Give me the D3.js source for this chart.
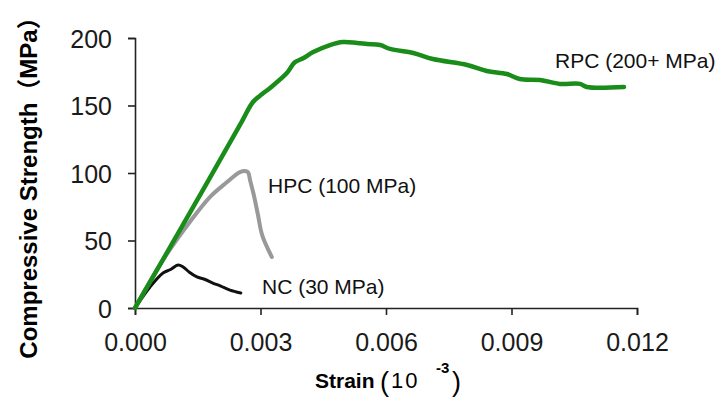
<!DOCTYPE html>
<html><head><meta charset="utf-8">
<script src="https://cdn.jsdelivr.net/npm/d3@7"></script>
<style>
html,body{margin:0;padding:0;background:#fff;}
text{font-family:"Liberation Sans",Arial,"Noto Sans CJK SC",sans-serif;}
</style></head>
<body><svg id="c" width="718" height="399"></svg>
<script>
// ---- data ----
const xTicks = [0, 0.003, 0.006, 0.009, 0.012];
const yTicks = [0, 50, 100, 150, 200];
const rpcStrain = [0,0.00131,0.00256,0.00282,0.00304,0.00323,0.00363,0.00382,0.00402,0.00426,0.00466,0.00497,0.00531,0.00555,0.00586,0.00610,0.00665,0.00712,0.00794,0.00841,0.00889,0.00920,0.00968,0.01016,0.01064,0.01080,0.01169];
const rpcStress = [0,70.4,138.5,152.6,158.5,163,174,182,185,189.6,194.8,197,196.3,195.6,194.8,191.9,188.9,184.4,180,175.6,173.3,169.6,168.9,166,166,163.7,163.7];
const hpcStrain = [0,0.00067,0.00131,0.00179,0.00220,0.00240,0.00251,0.00262,0.00270,0.00275,0.00284,0.00294,0.00304,0.00327];
const hpcStress = [0,35.6,63.7,82.2,93.3,98.5,100.7,101.5,100.7,94.8,83.7,68.9,54,37.8];
const ncStrain = [0,0.00036,0.00067,0.00085,0.00103,0.00115,0.00130,0.00148,0.00166,0.00186,0.00205,0.00227,0.00253];
const ncStress = [0,15.6,25.9,28.5,31.9,30.4,26.5,23,21.3,18.5,16.2,13.3,11.1];
const seriesNames = ["RPC (200+ MPa)", "HPC (100 MPa)", "NC (30 MPa)"];

const svg = d3.select("#c");
const x = d3.scaleLinear().domain([0, 0.012]).range([135, 637]);
const y = d3.scaleLinear().domain([0, 200]).range([308, 38]);

// axes
const xa = svg.append("g").attr("transform","translate(0,308)")
  .call(d3.axisBottom(x).tickValues(xTicks).tickFormat(d3.format(".3f")).tickSizeOuter(0).tickSize(7).tickPadding(18));
const ya = svg.append("g").attr("transform","translate(135,0)")
  .call(d3.axisLeft(y).tickValues(yTicks).tickSizeOuter(0).tickSize(7).tickPadding(16));
[xa, ya].forEach(g => {
  g.selectAll(".domain").attr("stroke","#222").attr("stroke-width",1.6);
  g.selectAll(".tick line").attr("stroke","#222").attr("stroke-width",1.6);
  g.selectAll("text").attr("fill","#1a1a1a").style("font-size","25px").attr("font-family","Liberation Sans, Arial, sans-serif");
});
ya.selectAll("text").attr("dy","0.36em");

const lineH = d3.line().x(d => x(d[0])).y(d => y(d[1])).curve(d3.curveCatmullRom);
const series = [
  {name: seriesNames[2], xs: ncStrain, ys: ncStress, color: "#111", w: 3},
  {name: seriesNames[1], xs: hpcStrain, ys: hpcStress, color: "#999", w: 4},
  {name: seriesNames[0], xs: rpcStrain, ys: rpcStress, color: "#1a8c1a", w: 4.5}
];
series.forEach(s => {
  svg.append("path").datum(s.xs.map((v,i)=>[v, s.ys[i]]))
    .attr("d", lineH).attr("fill","none").attr("stroke", s.color)
    .attr("stroke-width", s.w).attr("stroke-linejoin","round").attr("stroke-linecap","round");
});

// series labels
svg.append("text").attr("x",555).attr("y",68).text(seriesNames[0]).style("font-size","21px").attr("fill","#111");
svg.append("text").attr("x",268).attr("y",193).text(seriesNames[1]).style("font-size","21px").attr("fill","#111");
svg.append("text").attr("x",262).attr("y",294).text(seriesNames[2]).style("font-size","21px").attr("fill","#111");

// y axis title
svg.append("text").attr("transform","translate(37,182) rotate(-90)").attr("text-anchor","middle")
  .style("font-size","24px").attr("font-weight","bold").attr("fill","#000")
  .text("Compressive Strength（MPa）");

// x axis title
svg.append("text").attr("x",315).attr("y",388).attr("fill","#000").attr("font-weight","bold").style("font-size","21px").text("Strain");
svg.append("text").attr("x",380).attr("y",391).attr("fill","#000").style("font-size","27px").text("(");
svg.append("text").attr("x",391).attr("y",388).attr("fill","#000").style("font-size","22px").attr("letter-spacing","2px").text("10");
svg.append("text").attr("x",436).attr("y",373).attr("fill","#000").attr("font-weight","bold").style("font-size","15px").text("-3");
svg.append("text").attr("x",452).attr("y",391).attr("fill","#000").style("font-size","27px").text(")");
</script></body></html>
